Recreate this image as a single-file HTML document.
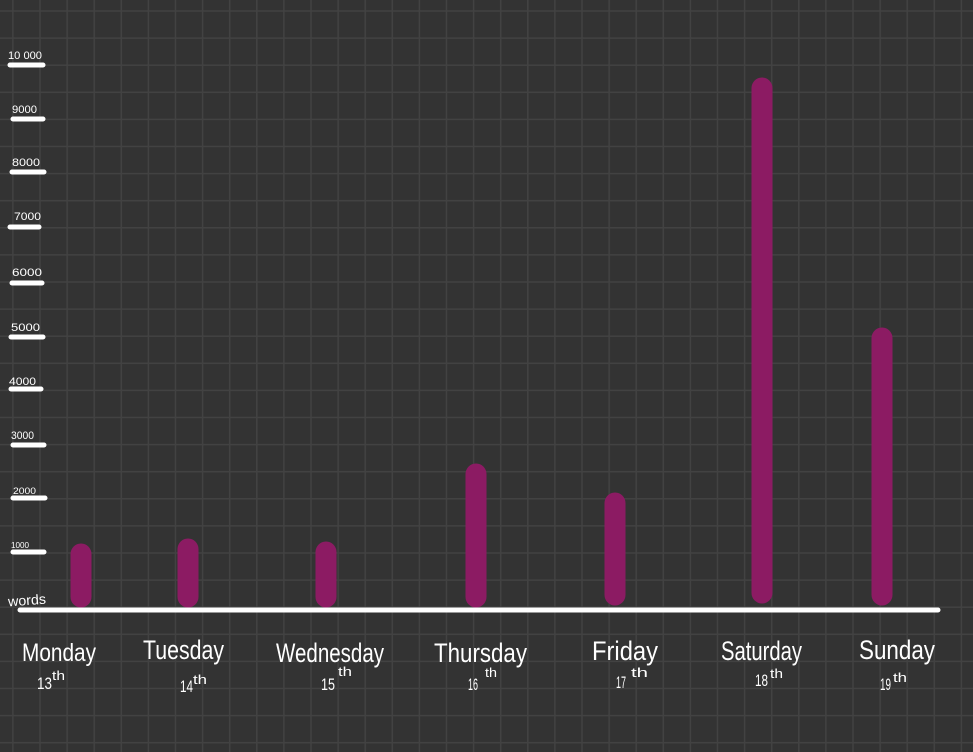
<!DOCTYPE html>
<html>
<head>
<meta charset="utf-8">
<style>
  html,body{margin:0;padding:0;background:#333333;}
  svg{display:block;}
  text{font-family:"Liberation Sans",sans-serif;fill:#ffffff;}
</style>
</head>
<body>
<svg width="973" height="752" viewBox="0 0 973 752" xmlns="http://www.w3.org/2000/svg">
  <defs>
    <pattern id="grid" patternUnits="userSpaceOnUse" x="12.15" y="10.25" width="27.1" height="27.1">
      <path d="M0.75 0 V27.1 M0 0.75 H27.1" stroke="#424242" stroke-width="1.5" fill="none"/>
    </pattern>
  </defs>
  <rect x="0" y="0" width="973" height="752" fill="#333333"/>
  <rect x="0" y="0" width="973" height="752" fill="url(#grid)"/>

  <!-- Y ticks -->
  <g stroke="#ffffff" stroke-width="5" stroke-linecap="round">
    <line x1="10" y1="65" x2="43" y2="65"/>
    <line x1="13" y1="119" x2="43" y2="119"/>
    <line x1="12" y1="172" x2="44" y2="172"/>
    <line x1="10" y1="227" x2="39" y2="227"/>
    <line x1="12" y1="283" x2="42" y2="283"/>
    <line x1="11" y1="337" x2="43" y2="337"/>
    <line x1="11" y1="389" x2="41" y2="389"/>
    <line x1="13" y1="445" x2="44" y2="445"/>
    <line x1="13" y1="498" x2="45" y2="498"/>
    <line x1="13" y1="552" x2="44" y2="552"/>
  </g>

  <!-- Y labels -->
  <g font-size="11">
    <text x="8" y="59" textLength="34" lengthAdjust="spacingAndGlyphs">10 000</text>
    <text x="12" y="113" textLength="25" lengthAdjust="spacingAndGlyphs">9000</text>
    <text x="12" y="166" textLength="28" lengthAdjust="spacingAndGlyphs">8000</text>
    <text x="14" y="220" textLength="27" lengthAdjust="spacingAndGlyphs">7000</text>
    <text x="12" y="276" textLength="30" lengthAdjust="spacingAndGlyphs">6000</text>
    <text x="11" y="331" textLength="29" lengthAdjust="spacingAndGlyphs">5000</text>
    <text x="9" y="385" textLength="27" lengthAdjust="spacingAndGlyphs">4000</text>
    <text x="11" y="439" textLength="23" lengthAdjust="spacingAndGlyphs">3000</text>
    <text x="13" y="494" textLength="23" lengthAdjust="spacingAndGlyphs" font-size="9">2000</text>
    <text x="11" y="548" textLength="18" lengthAdjust="spacingAndGlyphs" font-size="8">1000</text>
    <text x="8" y="605" textLength="38" lengthAdjust="spacingAndGlyphs" font-size="14" transform="rotate(-4 27 600)">words</text>
  </g>

  <!-- Bars -->
  <g stroke="#8c1b63" stroke-width="21" stroke-linecap="round">
    <line x1="81" y1="554" x2="81" y2="597"/>
    <line x1="188" y1="549" x2="188" y2="597"/>
    <line x1="326" y1="552" x2="326" y2="597"/>
    <line x1="476" y1="474" x2="476" y2="597"/>
    <line x1="615" y1="503" x2="615" y2="595"/>
    <line x1="762" y1="88" x2="762" y2="593"/>
    <line x1="882" y1="338" x2="882" y2="595"/>
  </g>

  <!-- X axis -->
  <line x1="20" y1="610" x2="938" y2="610" stroke="#ffffff" stroke-width="5" stroke-linecap="round"/>

  <!-- Day labels -->
  <g font-size="25">
    <text x="22" y="661" textLength="74" lengthAdjust="spacingAndGlyphs">Monday</text>
    <text x="143" y="659" textLength="81" lengthAdjust="spacingAndGlyphs" font-size="27">Tuesday</text>
    <text x="276" y="662" textLength="108" lengthAdjust="spacingAndGlyphs" font-size="27">Wednesday</text>
    <text x="434" y="662" textLength="93" lengthAdjust="spacingAndGlyphs" font-size="27">Thursday</text>
    <text x="592" y="660" textLength="66" lengthAdjust="spacingAndGlyphs" font-size="27">Friday</text>
    <text x="721" y="660" textLength="81" lengthAdjust="spacingAndGlyphs" font-size="27">Saturday</text>
    <text x="859" y="659" textLength="76" lengthAdjust="spacingAndGlyphs" font-size="27">Sunday</text>
  </g>

  <!-- Dates -->
  <g font-size="17">
    <text x="37" y="689" textLength="15" lengthAdjust="spacingAndGlyphs">13</text>
    <text x="52" y="680" textLength="13" lengthAdjust="spacingAndGlyphs" font-size="13">th</text>

    <text x="180" y="692" textLength="13" lengthAdjust="spacingAndGlyphs">14</text>
    <text x="193" y="684" textLength="14" lengthAdjust="spacingAndGlyphs" font-size="13">th</text>

    <text x="321" y="690" textLength="14" lengthAdjust="spacingAndGlyphs">15</text>
    <text x="338" y="676" textLength="14" lengthAdjust="spacingAndGlyphs" font-size="13">th</text>

    <text x="468" y="690" textLength="10" lengthAdjust="spacingAndGlyphs">16</text>
    <text x="485" y="677" textLength="12" lengthAdjust="spacingAndGlyphs" font-size="13">th</text>

    <text x="616" y="688" textLength="10" lengthAdjust="spacingAndGlyphs">17</text>
    <text x="631" y="677" textLength="17" lengthAdjust="spacingAndGlyphs" font-size="13">th</text>

    <text x="755" y="686" textLength="13" lengthAdjust="spacingAndGlyphs">18</text>
    <text x="770" y="678" textLength="13" lengthAdjust="spacingAndGlyphs" font-size="13">th</text>

    <text x="880" y="690" textLength="11" lengthAdjust="spacingAndGlyphs">19</text>
    <text x="893" y="682" textLength="14" lengthAdjust="spacingAndGlyphs" font-size="13">th</text>
  </g>
</svg>
</body>
</html>
